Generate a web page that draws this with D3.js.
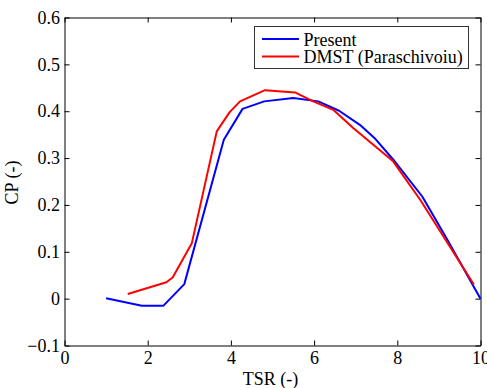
<!DOCTYPE html>
<html>
<head>
<meta charset="utf-8">
<script src="https://cdn.jsdelivr.net/npm/d3@7"></script>
<style>
  html, body { margin: 0; padding: 0; background: #fff; }
  svg { display: block; }
  svg text { font-family: "Liberation Serif", "DejaVu Serif", "Times New Roman", Times, "Noto Serif", serif !important; fill: #000; }
</style>
</head>
<body>
<svg id="chart" width="487" height="388"></svg>
<script>
// ---- data ----
const presentTSR = [1.0, 1.86, 2.38, 2.88, 3.83, 4.28, 4.8, 5.5, 6.1, 6.6, 7.1, 7.45, 7.9, 8.6, 9.2, 10.0];
const presentCP  = [0.001, -0.015, -0.015, 0.031, 0.339, 0.405, 0.421, 0.428, 0.421, 0.401, 0.371, 0.343, 0.297, 0.218, 0.126, 0.0];
const dmstTSR = [1.52, 2.45, 2.6, 3.06, 3.66, 3.97, 4.22, 4.82, 5.54, 5.98, 6.46, 6.94, 7.9, 8.55, 9.84];
const dmstCP  = [0.010, 0.035, 0.045, 0.118, 0.357, 0.398, 0.421, 0.445, 0.440, 0.421, 0.403, 0.364, 0.293, 0.211, 0.030];
const xTicks = [0, 2, 4, 6, 8, 10];
const yTicks = [-0.1, 0, 0.1, 0.2, 0.3, 0.4, 0.5, 0.6];
const seriesNames = ["Present", "DMST (Paraschivoiu)"];
const seriesColors = ["#0000ff", "#ff0000"];

// ---- layout ----
const FONT = "'Liberation Serif', 'DejaVu Serif', 'Times New Roman', Times, 'Noto Serif', serif";
const L = 64.5, R = 480.5, T = 17.5, B = 345.5;
const svg = d3.select("#chart").attr("font-family", FONT);
const x = d3.scaleLinear().domain([0, 10]).range([L, R]);
const y = d3.scaleLinear().domain([-0.1, 0.6]).range([B, T]);

const fmtY = d => (d === 0 ? "0" : d3.format(".1f")(d));

// axes (ticks inward)
const gx = svg.append("g").attr("transform", `translate(0,${B})`)
  .call(d3.axisBottom(x).tickValues(xTicks).tickSizeInner(-5).tickSizeOuter(0).tickPadding(6).tickFormat(d3.format("d")));
const gxt = svg.append("g").attr("transform", `translate(0,${T})`)
  .call(d3.axisTop(x).tickValues(xTicks).tickSizeInner(-5).tickSizeOuter(0).tickFormat(""));
const gy = svg.append("g").attr("transform", `translate(${L},0)`)
  .call(d3.axisLeft(y).tickValues(yTicks).tickSizeInner(-5).tickSizeOuter(0).tickPadding(4.5).tickFormat(fmtY));
const gyr = svg.append("g").attr("transform", `translate(${R},0)`)
  .call(d3.axisRight(y).tickValues(yTicks).tickSizeInner(-5).tickSizeOuter(0).tickFormat(""));

[gx, gxt, gy, gyr].forEach(g => {
  g.attr("font-family", FONT).attr("font-size", 18);
  g.selectAll("path.domain").attr("stroke", "#000").attr("stroke-width", 1);
  g.selectAll(".tick line").attr("stroke", "#000").attr("stroke-width", 1);
  g.selectAll("text").attr("font-family", FONT).attr("font-size", 18).attr("fill", "#000");
});

// axis titles
svg.append("text").attr("x", (L + R) / 2 - 2).attr("y", 384.5)
  .attr("text-anchor", "middle").attr("font-family", FONT).attr("font-size", 18).text("TSR (-)");
svg.append("text").attr("transform", `translate(18,${(T + B) / 2 + 1}) rotate(-90)`)
  .attr("text-anchor", "middle").attr("font-family", FONT).attr("font-size", 18).text("CP (-)");

// lines
const line = d3.line().x(d => x(d[0])).y(d => y(d[1]));
const series = [
  d3.zip(presentTSR, presentCP),
  d3.zip(dmstTSR, dmstCP)
];
const plot = svg.append("g");
series.forEach((s, i) => {
  plot.append("path").datum(s)
    .attr("fill", "none")
    .attr("stroke", seriesColors[i])
    .attr("stroke-width", 2)
    .attr("stroke-linejoin", "round")
    .attr("d", line);
});

// legend
const lg = svg.append("g");
lg.append("rect").attr("x", 254.5).attr("y", 26.5).attr("width", 214).attr("height", 42)
  .attr("fill", "#fff").attr("stroke", "#333").attr("stroke-width", 1);
seriesNames.forEach((name, i) => {
  const yy = 39 + i * 17.5;
  lg.append("line").attr("x1", 262).attr("x2", 299).attr("y1", yy).attr("y2", yy)
    .attr("stroke", seriesColors[i]).attr("stroke-width", 2);
  lg.append("text").attr("x", 303.5).attr("y", yy + 6.5).attr("font-family", FONT).attr("font-size", 18).text(name);
});
</script>
</body>
</html>
